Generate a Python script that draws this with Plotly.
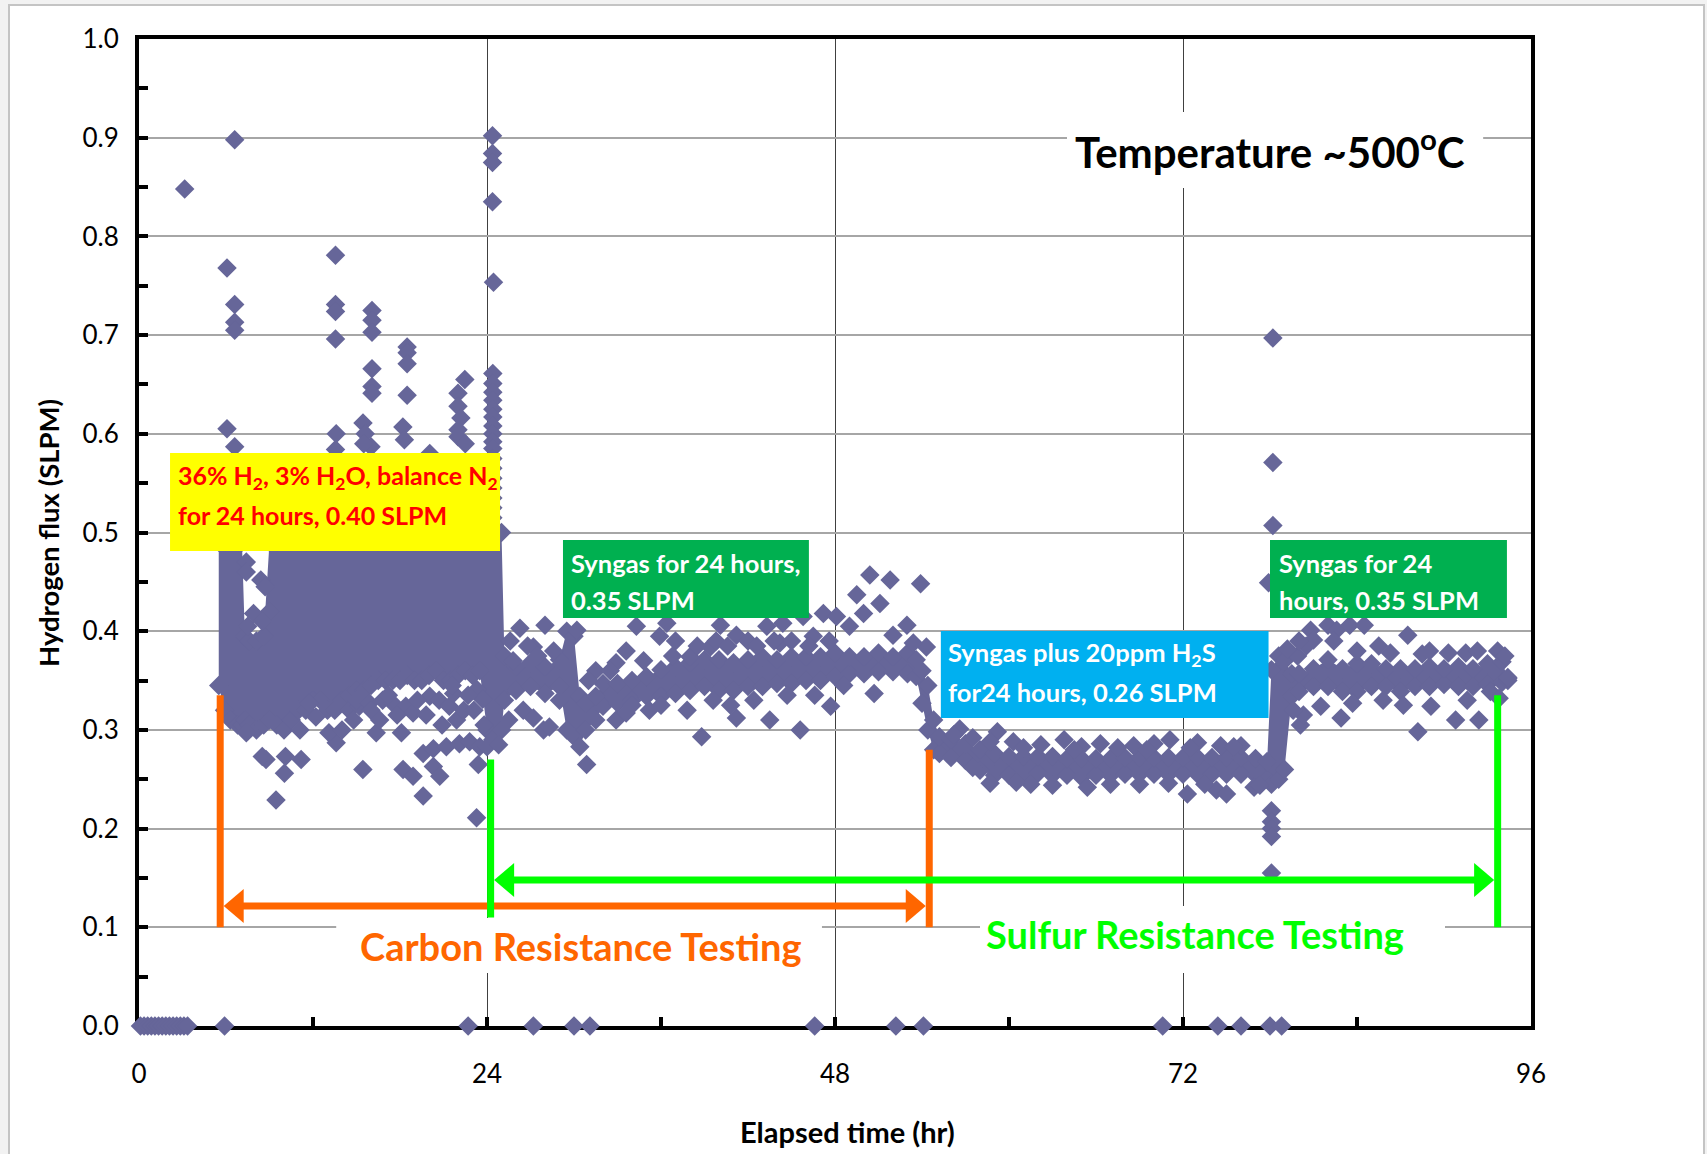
import plotly.graph_objects as go

# ---------------- data: hydrogen flux (SLPM) vs elapsed time (hr) ----------------

# readings that dropped to zero (start-up plus isolated dropouts)
zero_hours = [0.1, 0.35, 0.6, 0.85, 1.1, 1.35, 1.6, 1.85, 2.1, 2.35, 2.6, 2.85, 3.1, 3.35,
              5.9, 22.7, 27.2, 30.0, 31.1, 46.6, 52.2, 54.1, 70.6, 74.4, 76.0, 78.0, 78.8]

# dense core of the record: lower and upper edge of the main cloud of readings
band_hours = [5.5, 5.9, 6.3, 6.8, 7.1, 7.3, 7.6, 8.1, 8.6, 9.0, 9.5, 10.0, 10.5, 11.0, 11.5,
              12.0, 12.5, 13.0, 13.5, 14.0, 14.5, 15.0, 15.5, 16.0, 16.5, 17.0, 17.5,
              18.0, 18.5, 19.0, 19.5, 20.0, 20.5, 21.0, 21.5, 22.0, 22.5, 23.0, 23.5,
              24.0, 24.4, 25.0, 25.2, 26.0, 27.0, 28.0, 29.0, 29.5, 30.0, 30.4, 30.8,
              31.5, 32.0, 33.0, 34.0, 35.0, 36.0, 37.0, 38.0, 39.0, 40.0, 41.0, 42.0,
              43.0, 44.0, 45.0, 46.0, 47.0, 48.0, 49.0, 50.0, 51.0, 52.0, 53.0, 53.6,
              54.0, 54.4, 54.8, 55.2, 56.0, 57.0, 58.0, 59.0, 60.0, 61.0, 62.0, 63.0,
              64.0, 65.0, 66.0, 67.0, 68.0, 69.0, 70.0, 71.0, 72.0, 73.0, 74.0, 75.0,
              76.0, 77.0, 77.8, 78.1, 78.6, 79.0, 79.5, 80.0, 81.0, 82.0, 83.0, 84.0,
              85.0, 86.0, 87.0, 88.0, 89.0, 90.0, 91.0, 92.0, 93.0, 94.0, 94.4]
band_low = [0.345, 0.32, 0.31, 0.305, 0.305, 0.31, 0.305, 0.30, 0.305, 0.31, 0.305, 0.30,
            0.31, 0.32, 0.32, 0.33, 0.33, 0.32, 0.32, 0.33, 0.335, 0.34, 0.34, 0.345,
            0.35, 0.35, 0.35, 0.35, 0.355, 0.35, 0.35, 0.355, 0.36, 0.35, 0.35, 0.355,
            0.36, 0.355, 0.36, 0.30, 0.29, 0.30, 0.33, 0.34, 0.344, 0.337, 0.344, 0.30,
            0.293, 0.283, 0.30, 0.31, 0.324, 0.327, 0.33, 0.334, 0.334, 0.337, 0.34, 0.344,
            0.34, 0.34, 0.344, 0.344, 0.347, 0.347, 0.35, 0.35, 0.354, 0.357, 0.357, 0.359,
            0.359, 0.357, 0.354, 0.327, 0.30, 0.28, 0.276, 0.272, 0.269, 0.259, 0.254, 0.254,
            0.256, 0.256, 0.254, 0.254, 0.252, 0.254, 0.254, 0.255, 0.255, 0.255, 0.255, 0.255,
            0.255, 0.255, 0.255, 0.255, 0.254, 0.25, 0.245, 0.25, 0.26, 0.334, 0.339, 0.344,
            0.344, 0.339, 0.339, 0.344, 0.344, 0.339, 0.344, 0.344, 0.346, 0.344, 0.344, 0.346,
            0.348, 0.35]
band_high = [0.49, 0.49, 0.49, 0.49, 0.49, 0.395, 0.39, 0.39, 0.395, 0.49, 0.49, 0.49, 0.49,
             0.49, 0.49, 0.49, 0.49, 0.49, 0.49, 0.49, 0.49, 0.49, 0.49, 0.49, 0.49,
             0.49, 0.49, 0.49, 0.49, 0.49, 0.49, 0.49, 0.49, 0.49, 0.49, 0.49, 0.49,
             0.49, 0.49, 0.49, 0.50, 0.50, 0.375, 0.364, 0.368, 0.364, 0.371, 0.40, 0.395,
             0.334, 0.327, 0.334, 0.347, 0.347, 0.35, 0.354, 0.361, 0.364, 0.368, 0.371, 0.371,
             0.368, 0.371, 0.374, 0.371, 0.374, 0.374, 0.374, 0.378, 0.374, 0.374, 0.378, 0.374,
             0.378, 0.371, 0.36, 0.345, 0.31, 0.293, 0.29, 0.286, 0.28, 0.276, 0.273, 0.273,
             0.273, 0.273, 0.271, 0.271, 0.271, 0.271, 0.272, 0.272, 0.272, 0.272, 0.272, 0.272,
             0.272, 0.272, 0.272, 0.271, 0.268, 0.361, 0.375, 0.37, 0.357, 0.357, 0.362, 0.371,
             0.362, 0.367, 0.367, 0.362, 0.362, 0.362, 0.364, 0.362, 0.364, 0.362, 0.367, 0.369,
             0.352]

# individual readings outside the core, per test segment (hour, flux)
h2_points = [
    (3.15, 0.848), (6.6, 0.898), (6.07, 0.768), (6.6, 0.731), (6.6, 0.713), (6.6, 0.705),
    (6.07, 0.605), (6.6, 0.587), (13.55, 0.781), (13.55, 0.731), (13.55, 0.724),
    (13.55, 0.696), (13.55, 0.584), (13.6, 0.60), (16.07, 0.725), (16.07, 0.715),
    (16.07, 0.703), (16.07, 0.666), (16.07, 0.648), (16.07, 0.641), (16.0, 0.587),
    (15.45, 0.611), (15.6, 0.600), (15.5, 0.590), (18.49, 0.688), (18.49, 0.682),
    (18.49, 0.671), (18.49, 0.639), (18.2, 0.607), (18.3, 0.594), (20.05, 0.580),
    (22.47, 0.655), (22.0, 0.641), (22.0, 0.628), (22.2, 0.616), (22.0, 0.604),
    (22.0, 0.597), (22.5, 0.590),
    (24.38, 0.902), (24.38, 0.884), (24.38, 0.875), (24.38, 0.835), (24.45, 0.7535),
    (24.4, 0.661), (24.4, 0.651), (24.4, 0.642), (24.4, 0.634), (24.4, 0.625),
    (24.4, 0.617), (24.4, 0.608), (24.4, 0.600), (24.4, 0.592), (24.4, 0.585),
    (24.4, 0.575), (24.4, 0.565), (24.4, 0.555), (24.4, 0.545), (24.4, 0.535),
    (24.4, 0.525), (24.4, 0.515),
    (7.4, 0.47), (7.4, 0.46), (8.4, 0.452), (8.7, 0.445), (9.0, 0.42), (7.5, 0.405),
    (7.9, 0.418), (8.5, 0.41),
    (8.76, 0.270), (9.45, 0.229), (10.03, 0.256), (11.18, 0.270), (8.5, 0.273),
    (10.1, 0.273), (7.4, 0.297), (11.1, 0.300), (13.6, 0.287), (13.1, 0.297),
    (12.2, 0.313), (11.75, 0.327), (14.5, 0.320), (15.2, 0.324), (15.0, 0.330),
    (15.9, 0.327), (15.44, 0.260), (16.36, 0.297), (16.8, 0.330), (17.5, 0.327),
    (18.1, 0.297), (18.21, 0.260), (18.4, 0.324), (18.9, 0.317), (18.9, 0.253),
    (19.6, 0.233), (19.6, 0.276), (20.05, 0.334), (20.3, 0.263), (20.3, 0.281),
    (20.7, 0.330), (20.74, 0.253), (21.2, 0.283), (21.4, 0.324), (21.7, 0.337),
    (21.9, 0.310), (22.1, 0.286), (22.4, 0.320), (22.8, 0.288), (23.28, 0.211),
    (23.3, 0.341), (23.4, 0.265), (23.5, 0.283), (23.7, 0.331), (24.0, 0.283),
    (14.0, 0.300), (14.8, 0.310), (16.0, 0.320), (16.6, 0.310), (17.2, 0.335),
    (17.8, 0.315), (19.2, 0.330), (19.8, 0.315), (20.9, 0.305), (21.6, 0.345),
    (22.7, 0.335), (23.1, 0.320), (23.8, 0.305),
]

syngas_points = [
    (26.27, 0.403), (28.0, 0.406), (27.2, 0.384), (30.2, 0.401), (34.3, 0.405),
    (36.4, 0.408), (35.9, 0.395), (32.9, 0.368), (40.1, 0.406), (41.2, 0.396),
    (39.4, 0.384), (38.0, 0.374), (43.3, 0.405), (44.4, 0.408), (44.2, 0.388),
    (46.5, 0.395), (45.8, 0.415), (47.2, 0.418), (48.1, 0.415), (49.5, 0.437),
    (50.4, 0.457), (51.8, 0.452), (53.9, 0.448), (51.1, 0.428), (49.97, 0.418),
    (49.0, 0.405), (52.96, 0.406), (52.0, 0.396), (54.3, 0.384), (53.4, 0.388),
    (25.6, 0.390), (26.8, 0.385), (31.5, 0.360), (33.6, 0.380), (37.0, 0.390),
    (42.0, 0.390), (45.0, 0.390),
    (25.8, 0.370), (27.5, 0.375), (28.6, 0.380), (31.0, 0.350), (32.5, 0.360),
    (34.8, 0.370), (36.8, 0.375), (38.5, 0.385), (39.8, 0.390), (40.6, 0.385),
    (42.6, 0.385), (43.8, 0.390), (46.2, 0.385), (47.6, 0.390),
    (26.5, 0.320), (27.9, 0.300), (28.3, 0.303), (27.2, 0.312), (30.87, 0.265),
    (32.9, 0.310), (35.2, 0.320), (37.8, 0.320), (38.8, 0.293), (41.2, 0.312),
    (43.5, 0.310), (45.6, 0.300), (47.7, 0.324), (50.7, 0.337), (33.6, 0.317),
    (29.0, 0.330), (25.5, 0.310), (24.8, 0.285),
    (34.0, 0.325), (36.0, 0.325), (39.6, 0.330), (40.8, 0.325), (42.4, 0.330),
    (44.7, 0.335), (46.6, 0.335), (48.6, 0.345),
]

h2s_points = [
    (59.2, 0.298), (58.7, 0.288), (63.8, 0.290), (66.3, 0.286), (71.1, 0.290),
    (68.6, 0.284), (74.6, 0.284), (76.0, 0.284), (56.6, 0.301), (60.3, 0.288),
    (62.2, 0.285), (70.0, 0.286), (73.0, 0.287), (65.0, 0.283),
    (56.2, 0.295), (57.5, 0.292), (61.0, 0.282), (64.5, 0.280), (67.5, 0.282),
    (69.5, 0.280), (72.5, 0.282), (75.5, 0.283),
    (58.7, 0.246), (72.3, 0.235), (74.3, 0.239), (75.0, 0.235), (76.9, 0.242),
    (65.4, 0.242), (61.5, 0.245), (69.0, 0.245),
    (57.5, 0.262), (60.5, 0.247), (63.0, 0.244), (67.0, 0.245), (71.0, 0.246),
    (73.5, 0.245), (77.3, 0.244),
    (78.1, 0.218), (78.1, 0.207), (78.1, 0.200), (78.1, 0.192), (78.1, 0.155),
    (78.2, 0.697), (78.2, 0.571), (78.2, 0.507), (77.9, 0.449),
]

syngas2_points = [
    (80.8, 0.401), (81.0, 0.391), (82.0, 0.406), (82.6, 0.401), (83.5, 0.406),
    (84.5, 0.406), (87.5, 0.396), (79.9, 0.375), (79.2, 0.382), (85.5, 0.385),
    (89.0, 0.380), (91.5, 0.378), (93.7, 0.380),
    (80.5, 0.385), (82.4, 0.390), (84.0, 0.380), (86.3, 0.378), (88.5, 0.377),
    (90.3, 0.378), (92.3, 0.380), (94.2, 0.375), (80.0, 0.390),
    (80.1, 0.305), (80.3, 0.315), (82.9, 0.312), (88.2, 0.298), (89.1, 0.324),
    (90.8, 0.310), (92.4, 0.310), (81.5, 0.324), (93.2, 0.339), (94.4, 0.353),
    (83.7, 0.327), (85.8, 0.330), (87.2, 0.325), (91.6, 0.330), (93.8, 0.332),
    (79.6, 0.320),
]

# test windows marked under the record (hours) and the height of each bracket
carbon_span = (5.6, 54.5)
carbon_arrow_flux = 0.1215
carbon_bar_tops = (0.335, 0.28)
sulfur_span = (24.25, 93.7)
sulfur_arrow_flux = 0.148
sulfur_bar_tops = (0.27, 0.335)
bar_bottoms = (0.10, 0.11, 0.10)

x_ticks = [0, 24, 48, 72, 96]

# ---------------- figure ----------------
W, H = 1707, 1154
ML, MR, MT, MB = 139, 176, 39, 128
PW, PH = W - ML - MR, H - MT - MB
X_RANGE, Y_RANGE = (0, 96), (0, 1.0)
px_x = (X_RANGE[1] - X_RANGE[0]) / PW   # hours per pixel
px_y = (Y_RANGE[1] - Y_RANGE[0]) / PH   # flux per pixel

MARK = "#666699"
ORANGE = "#FF6600"
LIME = "#00FF00"
FONT = "Lato"

fig = go.Figure()

# dense core drawn as a filled envelope
fig.add_trace(go.Scatter(
    x=band_hours + band_hours[::-1], y=band_low + band_high[::-1],
    mode="lines", fill="toself", fillcolor=MARK, line=dict(width=0, color=MARK),
    hoverinfo="skip", showlegend=False))

diamond = dict(symbol="diamond", size=15, color=MARK, line=dict(width=0))


def add_points(xs, ys):
    fig.add_trace(go.Scatter(x=xs, y=ys, mode="markers", marker=diamond,
                             cliponaxis=False, showlegend=False))


add_points(band_hours + band_hours, band_low + band_high)
for pts in (h2_points, syngas_points, h2s_points, syngas2_points):
    add_points([p[0] for p in pts], [p[1] for p in pts])
add_points(zero_hours, [0.0] * len(zero_hours))

shapes = []


def px_paper_x(px):
    return (px - ML) / PW


def px_paper_y(py):
    return (H - MB - py) / PH


# outer frame of the chart
shapes.append(dict(type="rect", xref="paper", yref="paper", layer="below",
                   x0=px_paper_x(9), x1=px_paper_x(1704), y0=px_paper_y(1160), y1=px_paper_y(5),
                   fillcolor="white", line=dict(color="#C4C4C4", width=2)))

# white backing behind free-standing labels (interrupts the gridlines)
for x0, x1, y0, y1 in [(64.0, 92.7, 0.849, 0.926), (13.6, 47.1, 0.0537, 0.1094),
                       (58.0, 90.07, 0.0537, 0.1216)]:
    shapes.append(dict(type="rect", xref="x", yref="y", layer="between",
                       x0=x0, x1=x1, y0=y0, y1=y1, fillcolor="white", line=dict(width=0)))

# coloured condition boxes
for x0, x1, y0, y1, col in [(2.14, 24.9, 0.4813, 0.5805, "#FFFF00"),
                            (29.24, 46.2, 0.4134, 0.4924, "#00B050"),
                            (55.3, 77.9, 0.312, 0.4002, "#00B0F0"),
                            (78.0, 94.34, 0.4134, 0.4924, "#00B050")]:
    shapes.append(dict(type="rect", xref="x", yref="y", layer="above",
                       x0=x0, x1=x1, y0=y0, y1=y1, fillcolor=col, line=dict(width=0)))

# brackets with arrows for the two resistance tests
LW = 7
head_len = 20 * px_x
head_half = 17 * px_y
tip_gap = (LW / 2) * px_x


def vbar(x, y0, y1, col):
    shapes.append(dict(type="line", xref="x", yref="y", layer="above",
                       x0=x, x1=x, y0=y0, y1=y1, line=dict(color=col, width=LW)))


def double_arrow(xa, xb, y, col):
    ta, tb = xa + tip_gap, xb - tip_gap
    shapes.append(dict(type="line", xref="x", yref="y", layer="above",
                       x0=ta + head_len * 0.5, x1=tb - head_len * 0.5, y0=y, y1=y,
                       line=dict(color=col, width=LW)))
    for tip, d in ((ta, -1), (tb, 1)):
        base = tip - d * head_len
        shapes.append(dict(type="path", xref="x", yref="y", layer="above",
                           path=f"M {tip},{y} L {base},{y + head_half} L {base},{y - head_half} Z",
                           fillcolor=col, line=dict(width=0)))


vbar(carbon_span[0], bar_bottoms[0], carbon_bar_tops[0], ORANGE)
vbar(carbon_span[1], bar_bottoms[0], carbon_bar_tops[1], ORANGE)
double_arrow(carbon_span[0], carbon_span[1], carbon_arrow_flux, ORANGE)
vbar(sulfur_span[0], bar_bottoms[1], sulfur_bar_tops[0], LIME)
vbar(sulfur_span[1], bar_bottoms[2], sulfur_bar_tops[1], LIME)
double_arrow(sulfur_span[0], sulfur_span[1], sulfur_arrow_flux, LIME)

annotations = []


def label(x, y, text, size, color, xanchor="left", **kw):
    annotations.append(dict(x=x, y=y, xref="x", yref="y", text=text, showarrow=False,
                            xanchor=xanchor, yanchor="middle",
                            font=dict(family=FONT, size=size, color=color, weight="bold"), **kw))


BOX_FONT = 25.5
label(78.0, 0.889, "Temperature ~500<sup>o</sup>C", 42, "black", xanchor="center")
label(2.55, 0.556, "36% H<sub>2</sub>, 3% H<sub>2</sub>O, balance N<sub>2</sub>", 25, "#FF0000")
label(2.55, 0.518, "for 24 hours, 0.40 SLPM", 25, "#FF0000")
label(29.66, 0.469, "Syngas for 24 hours,", BOX_FONT, "white")
label(29.66, 0.4316, "0.35 SLPM", BOX_FONT, "white")
label(55.66, 0.3769, "Syngas plus 20ppm H<sub>2</sub>S", BOX_FONT, "white")
label(55.66, 0.3384, "for24 hours, 0.26 SLPM", BOX_FONT, "white")
label(78.48, 0.469, "Syngas for 24", BOX_FONT, "white")
label(78.48, 0.4316, "hours, 0.35 SLPM", BOX_FONT, "white")
label(30.5, 0.081, "Carbon Resistance Testing", 38, ORANGE, xanchor="center")
label(72.8, 0.0932, "Sulfur Resistance Testing", 38, LIME, xanchor="center")

# axis titles
annotations.append(dict(x=px_paper_x(847), y=px_paper_y(1131), xref="paper", yref="paper",
                        text="Elapsed time (hr)", showarrow=False, xanchor="center", yanchor="middle",
                        font=dict(family=FONT, size=29, color="black", weight="bold")))
annotations.append(dict(x=px_paper_x(48), y=px_paper_y(533), xref="paper", yref="paper",
                        text="Hydrogen flux (SLPM)", showarrow=False, textangle=-90,
                        xanchor="center", yanchor="middle",
                        font=dict(family=FONT, size=27.5, color="black", weight="bold")))

axis_common = dict(showline=True, linecolor="black", linewidth=4, mirror=True,
                   ticks="inside", ticklen=9, tickwidth=4, tickcolor="black",
                   zeroline=False, layer="below traces",
                   tickfont=dict(family=FONT, size=26, color="black"))

fig.update_layout(
    width=W, height=H,
    margin=dict(l=ML, r=MR, t=MT, b=MB),
    paper_bgcolor="#F2F2F2", plot_bgcolor="white",
    showlegend=False,
    shapes=shapes, annotations=annotations,
    xaxis=dict(range=list(X_RANGE), tickvals=x_ticks, ticktext=[str(v) for v in x_ticks],
               showgrid=True, gridcolor="#404040", gridwidth=1,
               ticklabelstandoff=22,
               minor=dict(dtick=12, tick0=0, ticks="inside", ticklen=9, tickwidth=4,
                          tickcolor="black", showgrid=False),
               **axis_common),
    yaxis=dict(range=list(Y_RANGE), dtick=0.1, tick0=0, tickformat=".1f",
               showgrid=True, gridcolor="#A6A6A6", gridwidth=1.5,
               ticklabelstandoff=11,
               minor=dict(dtick=0.05, tick0=0, ticks="inside", ticklen=9, tickwidth=4,
                          tickcolor="black", showgrid=False),
               **axis_common),
)

fig.write_html("out.html")
